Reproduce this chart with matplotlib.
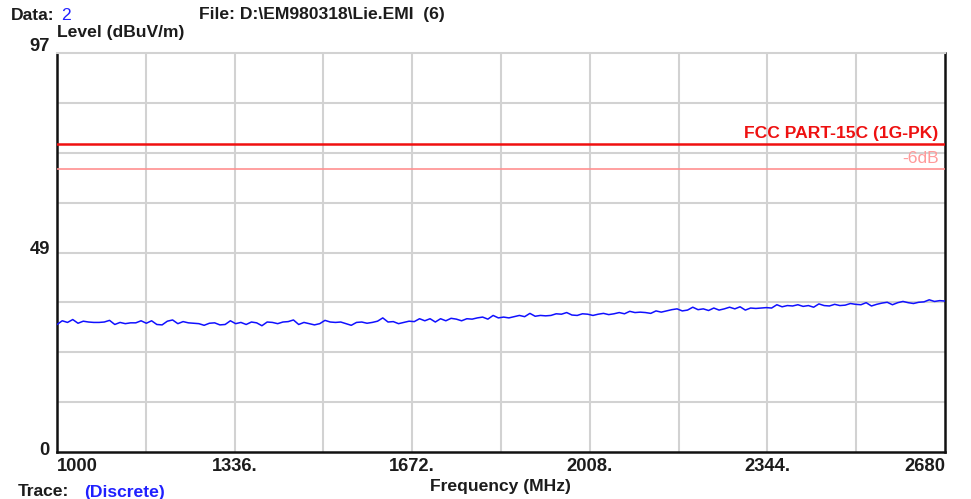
import matplotlib
matplotlib.use("Agg")
import matplotlib.pyplot as plt
import numpy as np

plt.rcParams['font.family'] = ['Liberation Sans', 'DejaVu Sans']

# measured level, one sample every 10 MHz from 1000 to 2680 MHz
level = [
    31.0, 31.9, 31.5, 32.2, 31.3, 31.8, 31.6, 31.5, 31.5, 31.6, 32.0, 31.0, 31.5, 31.2, 31.4, 31.4, 31.9,
    31.3, 31.9, 31.0, 30.9, 31.8, 32.1, 31.2, 31.7, 31.4, 31.3, 31.2, 30.8, 31.3, 31.4, 30.9, 31.0, 31.9,
    31.2, 31.5, 31.0, 31.6, 31.4, 30.7, 31.6, 31.5, 31.2, 31.6, 31.7, 32.1, 31.0, 31.5, 31.2, 30.9, 31.2,
    32.0, 31.6, 31.5, 31.6, 31.2, 30.8, 31.5, 31.6, 31.3, 31.5, 31.8, 32.6, 31.6, 31.7, 31.2, 31.5, 31.8,
    31.7, 32.4, 31.9, 32.4, 31.6, 32.4, 31.9, 32.5, 32.3, 31.9, 32.4, 32.3, 32.6, 32.8, 32.3, 33.2, 32.6,
    32.8, 32.6, 32.9, 33.2, 32.9, 33.7, 33.0, 33.2, 33.1, 33.2, 33.6, 33.5, 33.9, 33.3, 33.2, 33.6, 33.5,
    33.2, 33.5, 33.7, 33.4, 33.6, 33.9, 33.6, 34.2, 33.9, 34.0, 33.9, 33.7, 34.3, 34.0, 34.3, 34.6, 34.8,
    34.3, 34.5, 35.2, 34.6, 34.8, 34.4, 35.0, 34.5, 34.8, 35.2, 34.8, 35.3, 34.5, 35.0, 34.9, 35.0, 35.1,
    35.0, 35.8, 35.3, 35.6, 35.5, 35.8, 35.4, 35.6, 35.2, 36.0, 35.6, 35.5, 35.9, 35.6, 35.7, 36.1, 35.9,
    35.8, 36.3, 35.5, 35.9, 36.2, 36.4, 35.8, 36.3, 36.6, 36.3, 36.1, 36.4, 36.5, 37.0, 36.6, 36.8, 36.7,
]
f_start, f_stop = 1000, 2680
freq = np.linspace(f_start, f_stop, len(level))

# limit lines as drawn on the plot
limit = 74.8
limit_label = "FCC PART-15C (1G-PK)"
margin = 68.7
margin_label = "-6dB"

y_min, y_max = 0, 97
x_ticks = [1000, 1336, 1672, 2008, 2344, 2680]
x_ticklabels = ["1000", "1336.", "1672.", "2008.", "2344.", "2680"]
y_ticks = [0, 49, 97]

txt = "#1c1c1c"
fs = 12.6

fig = plt.figure(figsize=(9.71, 4.99), dpi=100)
ax = fig.add_axes([57/971, 47/499, 888/971, 399/499])

# grid: 10 divisions on x, 8 on y
for xv in np.linspace(f_start, f_stop, 11)[1:-1]:
    ax.axvline(xv, color="#d2d2d2", lw=1.5, zorder=1)
for yv in np.linspace(y_min, y_max, 9)[1:-1]:
    ax.axhline(yv, color="#d2d2d2", lw=1.5, zorder=1)

ax.axhline(limit, color="#f01010", lw=1.8, zorder=3)
ax.axhline(margin, color="#ff9090", lw=1.2, zorder=3)
ax.text(f_stop - 12, limit + 0.8, limit_label, color="#ee1111", fontsize=fs,
        fontweight="bold", ha="right", va="bottom")
ax.text(f_stop - 12, margin + 0.8, margin_label, color="#ff9a9a", fontsize=fs,
        ha="right", va="bottom")

ax.plot(freq, level, color="#1010ff", lw=1.1, zorder=4)

ax.set_xlim(f_start, f_stop)
ax.set_ylim(y_min, y_max)
ax.set_xticks([])
ax.set_yticks([])

for s in ["left", "bottom", "right"]:
    ax.spines[s].set_color("#111111")
    ax.spines[s].set_linewidth(1.8)
ax.spines["top"].set_color("#d2d2d2")
ax.spines["top"].set_linewidth(1.5)

# tick labels
for xv, lab in zip(x_ticks, x_ticklabels):
    ha = "center"
    if xv == f_start:
        ha = "left"
    elif xv == f_stop:
        ha = "right"
    ax.text(xv, -3.5, lab, ha=ha, va="center", fontsize=13.2, fontweight="bold",
            color=txt, clip_on=False)
for yv in y_ticks:
    dy = 1.6 if yv == y_max else 0.3
    ax.text(-0.008, yv + dy, str(yv), transform=ax.get_yaxis_transform(),
            ha="right", va="center", fontsize=13.2, fontweight="bold", color=txt)

fig.text(11/971, 1 - 15/499, "Data:", fontsize=fs, fontweight="bold", color=txt, va="center")
fig.text(61/971, 1 - 15/499, "2", fontsize=fs, color="#2020ff", va="center")
fig.text(199/971, 1 - 15/499, "File: D:\\EM980318\\Lie.EMI  (6)", fontsize=fs,
         fontweight="bold", color=txt, va="center")
fig.text(57/971, 1 - 33/499, "Level (dBuV/m)", fontsize=fs, fontweight="bold",
         color=txt, va="center")
fig.text(500/971, 1 - 486/499, "Frequency (MHz)", fontsize=fs, fontweight="bold",
         color=txt, va="center", ha="center")
fig.text(18/971, 1 - 492/499, "Trace:", fontsize=fs, fontweight="bold", color=txt, va="center")
fig.text(84/971, 1 - 492/499, "(Discrete)", fontsize=fs, fontweight="bold",
         color="#2020ff", va="center")

fig.savefig("out.png", dpi=100)
